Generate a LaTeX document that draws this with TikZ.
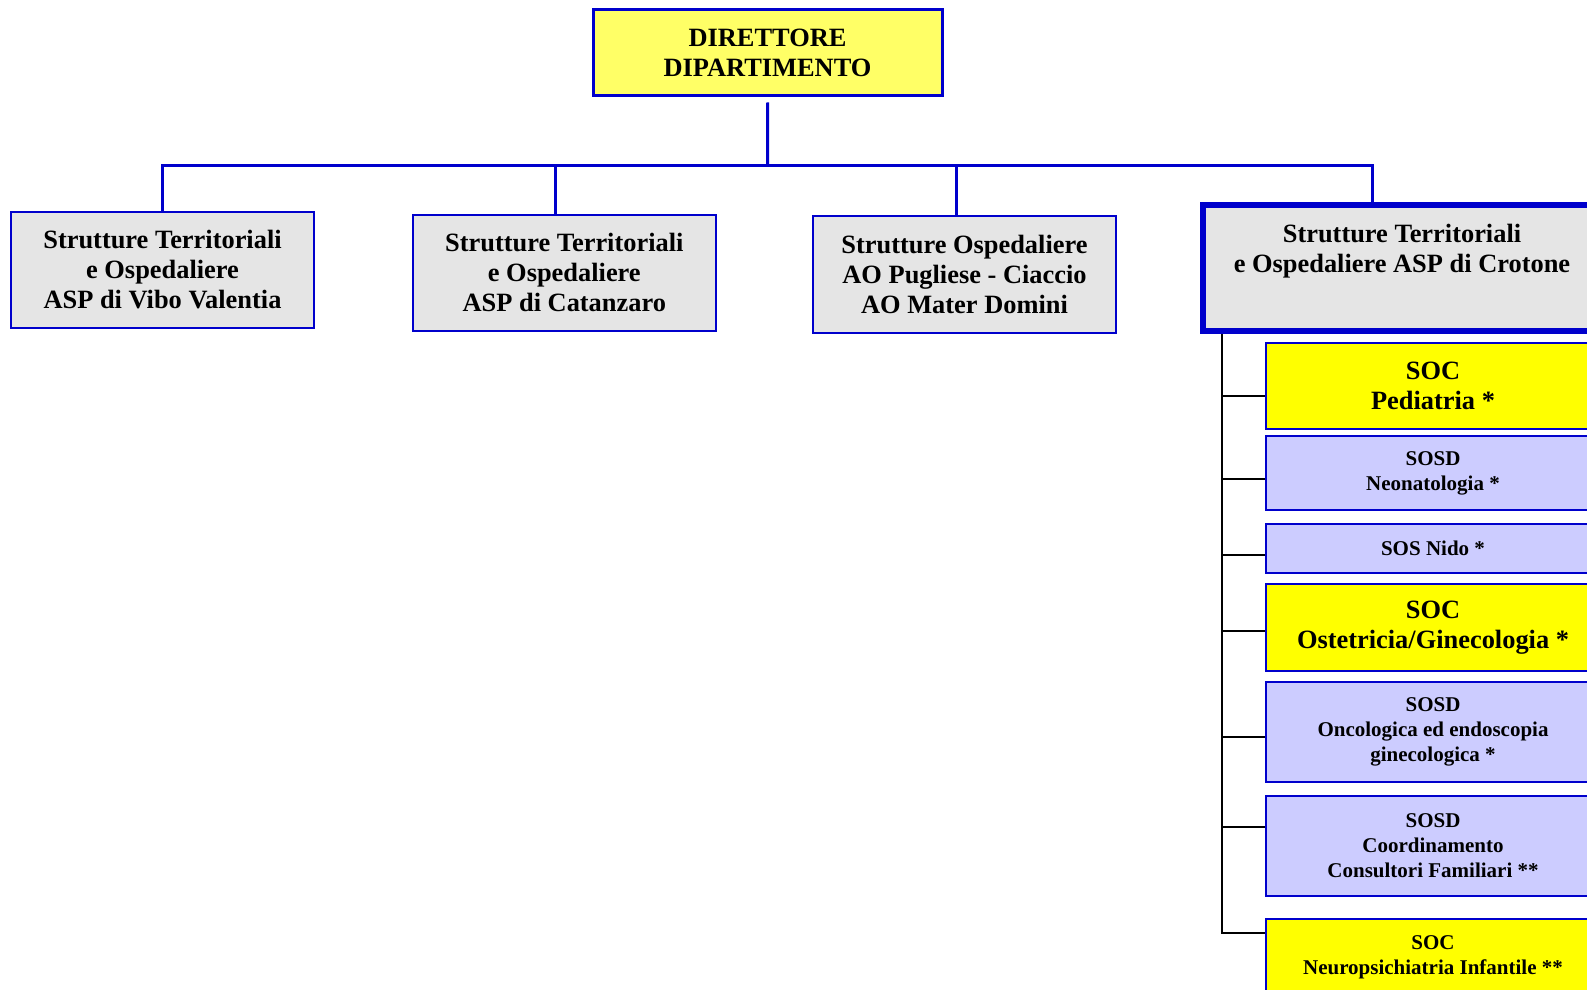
\documentclass[tikz,border=0pt]{standalone}
\usepackage{fontspec}
\setmainfont{Liberation Serif}
\definecolor{ablue}{RGB}{0,0,204}
\definecolor{pyellow}{RGB}{255,255,102}
\definecolor{syellow}{RGB}{255,255,0}
\definecolor{lgray}{RGB}{229,229,229}
\definecolor{lav}{RGB}{204,204,255}
\begin{document}
\begin{tikzpicture}[x=0.5pt,y=-0.5pt,
  big/.style={font=\bfseries\fontsize{13.2}{15}\selectfont},
  small/.style={font=\bfseries\fontsize{10.5}{12.5}\selectfont},
  box/.style={draw=ablue, align=center, inner sep=0pt},
  grbox/.style={box, fill=lgray, line width=1pt, minimum width=151.5pt, minimum height=58pt, big},
  socbox/.style={box, fill=syellow, line width=1.2pt, minimum width=167pt},
  sosbox/.style={box, fill=lav, line width=1.2pt, minimum width=167pt, small},
  bline/.style={draw=ablue, line width=1.5pt},
  kline/.style={draw=black, line width=1pt}
]
\useasboundingbox (0,0) rectangle (1587,990);
\clip (0,0) rectangle (1587,990);

\node[box, fill=pyellow, line width=1.5pt, minimum width=174.5pt, minimum height=43pt, big]
  (dir) at (767.5,53) {DIRETTORE\\DIPARTIMENTO};

\node[grbox] (vibo) at (162.5,270) {Strutture Territoriali\\e Ospedaliere\\ASP di Vibo Valentia};
\node[grbox] (cz) at (564.3,272.8) {Strutture Territoriali\\e Ospedaliere\\ASP di Catanzaro};
\node[grbox, minimum height=58.5pt] (ao) at (964.5,274.5) {Strutture Ospedaliere\\AO Pugliese - Ciaccio\\AO Mater Domini};
\node[box, fill=lgray, line width=3pt, minimum width=199pt, minimum height=63pt, big]
  (crot) at (1402,268) {Strutture Territoriali\\e Ospedaliere ASP di Crotone\\\strut};

\node[socbox, minimum height=43pt, big] (ped) at (1433,386) {SOC\\Pediatria *};
\node[sosbox, minimum height=37pt] (neo) at (1433,473) {SOSD\\Neonatologia *};
\node[sosbox, minimum height=24.5pt] (nido) at (1433,548.5) {SOS Nido *};
\node[socbox, minimum height=43.5pt, big] (ost) at (1433,627.5) {SOC\\Ostetricia/Ginecologia *};
\node[sosbox, minimum height=50pt] (onc) at (1433,732) {SOSD\\Oncologica ed endoscopia\\ginecologica *};
\node[sosbox, minimum height=50pt] (coo) at (1433,846) {SOSD\\Coordinamento\\Consultori Familiari **};
\node[socbox, minimum height=38pt, small] (npi) at (1433,957) {SOC\\Neuropsichiatria Infantile **};

% blue connectors
\coordinate (hub) at (767.7,166);
\coordinate (spx) at (1221.7,933);
\draw[bline] ([yshift=-2.5pt]dir.south) -- (hub);
\draw[bline] (vibo.north) -- (vibo.north |- hub) -- (hub -| 1372.7,0) -- (crot.north -| 1372.7,0);
\draw[bline] (hub -| 555.7,0) -- (cz.north -| 555.7,0);
\draw[bline] (hub -| 956.7,0) -- (ao.north -| 956.7,0);

% black tree
\draw[kline] (crot.south -| spx) -- (spx) -- (npi.west |- spx);
\draw[kline] (spx |- 0,396) -- (ped.west |- 0,396);
\draw[kline] (spx |- 0,479) -- (neo.west |- 0,479);
\draw[kline] (spx |- 0,555) -- (nido.west |- 0,555);
\draw[kline] (spx |- 0,631) -- (ost.west |- 0,631);
\draw[kline] (spx |- 0,737) -- (onc.west |- 0,737);
\draw[kline] (spx |- 0,827) -- (coo.west |- 0,827);
\end{tikzpicture}
\end{document}
